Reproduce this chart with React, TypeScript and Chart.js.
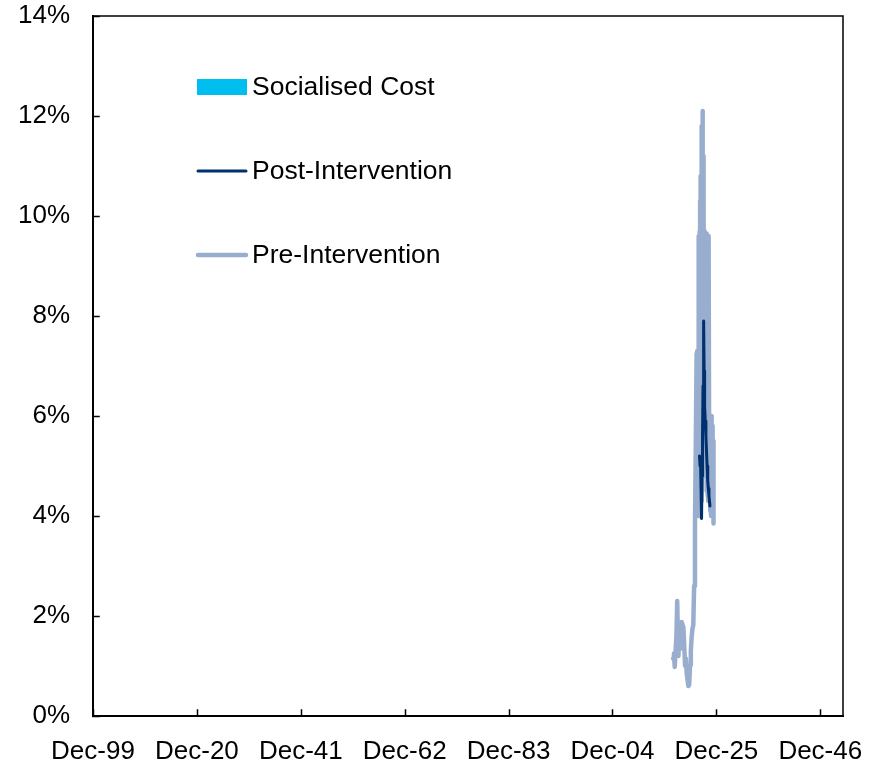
import React, { useEffect, useRef } from "react";
import { Chart, registerables } from "chart.js";

Chart.register(...registerables);

// ---- Data ----
const xTickLabels = ["Dec-99", "Dec-20", "Dec-41", "Dec-62", "Dec-83", "Dec-04", "Dec-25", "Dec-46"];
const xTickYears = [1900, 1921, 1942, 1963, 1984, 2005, 2026, 2047];
const xMin = 1900;
const xMax = 2051.59;
const yMin = 0;
const yMax = 14;
const yStep = 2;

const preDates = [
  2017.25, 2017.42, 2017.58, 2017.75, 2017.92, 2018.08, 2018.25, 2018.33, 2018.5, 2018.67,
  2018.83, 2019.0, 2019.17, 2019.33, 2019.5, 2019.67, 2019.83, 2020.0, 2020.17, 2020.33,
  2020.5, 2020.67, 2020.83, 2021.0, 2021.17, 2021.33, 2021.5, 2021.67, 2021.83, 2022.0,
  2022.06, 2022.12, 2022.18, 2022.24, 2022.3, 2022.36, 2022.42, 2022.48, 2022.54, 2022.6,
  2022.66, 2022.72, 2022.78, 2022.84, 2022.9, 2022.96, 2023.02, 2023.08, 2023.14, 2023.2,
  2023.26, 2023.32, 2023.38, 2023.44, 2023.5, 2023.56, 2023.62, 2023.68, 2023.74, 2023.8,
  2023.86, 2023.92, 2023.98, 2024.04, 2024.1, 2024.16, 2024.22, 2024.28, 2024.34, 2024.4,
  2024.46, 2024.52, 2024.6, 2024.68, 2024.76, 2024.84, 2024.92, 2025.0, 2025.08, 2025.16,
  2025.24, 2025.32, 2025.42,
];
const preValues = [
  1.15, 1.25, 0.98, 1.3, 1.6, 2.3, 1.45, 1.2, 1.75, 1.85,
  1.35, 1.88, 1.82, 1.78, 1.4, 1.0, 1.15, 0.85, 0.72, 0.6,
  0.62, 1.02, 1.3, 1.58, 1.75, 1.82, 2.6, 3.8, 5.4, 7.25,
  4.4, 7.3, 4.2, 7.2, 4.1, 7.3, 4.0, 9.6, 4.1, 9.7,
  4.0, 10.3, 4.2, 10.8, 4.3, 11.4, 4.6, 11.8, 5.0, 12.1,
  5.2, 11.2, 5.6, 10.4, 5.4, 9.7, 5.2, 9.6, 4.9, 9.6,
  4.8, 9.65, 4.6, 9.6, 4.5, 9.5, 4.4, 9.6, 4.3, 9.5,
  9.6, 6.0, 4.3, 6.0, 4.1, 5.9, 4.0, 6.0, 4.2, 5.8,
  4.4, 5.5, 3.85,
];

const postDates = [
  2022.58, 2022.7, 2022.8, 2022.92, 2023.0, 2023.1, 2023.2, 2023.3, 2023.42, 2023.52,
  2023.62, 2023.75, 2023.88, 2024.0, 2024.12, 2024.25, 2024.38, 2024.5, 2024.7,
];
const postValues = [
  5.2, 5.0, 5.1, 4.4, 3.95, 4.8, 5.6, 6.6, 7.9, 6.9,
  6.2, 5.9, 5.6, 5.3, 5.0, 4.7, 4.55, 4.4, 4.2,
];
// socialised cost = gap between post-intervention and pre-intervention
const socialisedCost = [
  2.1, 2.3, 2.6, 3.2, 3.6, 3.4, 3.0, 2.4, 0.2, 1.6,
  2.4, 2.6, 2.8, 3.0, 3.2, 3.4, 3.6, 1.4, 1.2,
];

const COLORS = {
  socialised: "#00BEF0",
  post: "#00306E",
  pre: "#99AECE",
};
const FONT = '"Liberation Sans", Arial, Helvetica, sans-serif';

export default function App() {
  const ref = useRef<HTMLCanvasElement>(null);

  useEffect(() => {
    if (!ref.current) return;

    const preData = preDates.map((d, i) => ({ x: d, y: preValues[i] }));
    const postData = postDates.map((d, i) => ({ x: d, y: postValues[i] }));
    const socialisedTop = postDates.map((d, i) => ({ x: d, y: postValues[i] + socialisedCost[i] }));

    const framePlugin = {
      id: "frameTicks",
      afterDatasetsDraw(chart: any) {
        const { ctx, chartArea } = chart;
        const { left, right, top, bottom } = chartArea;
        const xs = chart.scales.x;
        const ys = chart.scales.y;
        ctx.save();
        ctx.strokeStyle = "#000";
        ctx.lineCap = "square";
        ctx.lineWidth = 1.5;
        ctx.beginPath();
        ctx.moveTo(left, top);
        ctx.lineTo(right, top);
        ctx.lineTo(right, bottom);
        ctx.stroke();
        ctx.lineWidth = 1.5;
        ctx.beginPath();
        for (const t of ys.ticks) {
          const y = Math.round(ys.getPixelForValue(t.value)) + 0.5;
          ctx.moveTo(left, y);
          ctx.lineTo(left + 6, y);
        }
        for (const t of xs.ticks) {
          const x = Math.round(xs.getPixelForValue(t.value)) + 0.5;
          ctx.moveTo(x, bottom);
          ctx.lineTo(x, bottom - 6);
        }
        ctx.stroke();
        ctx.lineWidth = 2;
        ctx.beginPath();
        ctx.moveTo(left, top);
        ctx.lineTo(left, bottom);
        ctx.lineTo(right, bottom);
        ctx.stroke();
        ctx.restore();
      },
    };

    const legendPlugin = {
      id: "insideLegend",
      afterDraw(chart: any) {
        const { ctx } = chart;
        const ds = chart.data.datasets;
        const x0 = 197;
        const symW = 50;
        const textX = 252;
        const rows = [87, 171, 255];
        ctx.save();
        ctx.font = `26.5px ${FONT}`;
        ctx.textBaseline = "middle";
        ctx.textAlign = "left";
        ds.forEach((d: any, i: number) => {
          const y = rows[i];
          if (d.legendType === "box") {
            ctx.fillStyle = d.backgroundColor;
            ctx.fillRect(x0, y - 8, symW, 16);
          } else {
            ctx.strokeStyle = d.borderColor;
            ctx.lineWidth = d.borderWidth;
            ctx.lineCap = "round";
            ctx.beginPath();
            ctx.moveTo(x0 + 1, y);
            ctx.lineTo(x0 + symW - 1, y);
            ctx.stroke();
          }
          ctx.fillStyle = "#000";
          ctx.fillText(d.label, textX, y + 1);
        });
        ctx.restore();
      },
    };

    const chart = new Chart(ref.current, {
      type: "line",
      data: {
        datasets: [
          {
            label: "Socialised Cost",
            data: socialisedTop,
            borderWidth: 0,
            borderColor: "rgba(0,0,0,0)",
            backgroundColor: COLORS.socialised,
            fill: 1,
            pointRadius: 0,
            order: 3,
            legendType: "box",
          } as any,
          {
            label: "Post-Intervention",
            data: postData,
            borderColor: COLORS.post,
            backgroundColor: COLORS.post,
            borderWidth: 3,
            pointRadius: 0,
            fill: false,
            order: 1,
            borderJoinStyle: "round",
            borderCapStyle: "round",
          } as any,
          {
            label: "Pre-Intervention",
            data: preData,
            borderColor: COLORS.pre,
            backgroundColor: COLORS.pre,
            borderWidth: 4.5,
            pointRadius: 0,
            fill: false,
            order: 2,
            borderJoinStyle: "round",
            borderCapStyle: "round",
          } as any,
        ],
      },
      options: {
        animation: false,
        responsive: true,
        maintainAspectRatio: false,
        layout: { padding: { top: 16, right: 39, left: 0, bottom: 0 } },
        plugins: {
          legend: { display: false },
          tooltip: { enabled: false },
        },
        elements: { line: { tension: 0 } },
        scales: {
          x: {
            type: "linear",
            min: xMin,
            max: xMax,
            afterBuildTicks: (scale: any) => {
              scale.ticks = xTickYears.map((v) => ({ value: v }));
            },
            afterFit: (scale: any) => {
              scale.height = 47;
              scale.paddingLeft = 0;
              scale.paddingRight = 0;
            },
            grid: { display: false, drawTicks: false },
            border: { display: false },
            ticks: {
              autoSkip: false,
              maxRotation: 0,
              minRotation: 0,
              padding: 20,
              color: "#000",
              font: { family: FONT, size: 26 },
              callback: (_v: any, i: number) => xTickLabels[i],
            },
          },
          y: {
            type: "linear",
            min: yMin,
            max: yMax,
            afterFit: (scale: any) => {
              scale.width = 93;
              scale.paddingTop = 0;
              scale.paddingBottom = 0;
            },
            grid: { display: false, drawTicks: false },
            border: { display: false },
            ticks: {
              stepSize: yStep,
              padding: 23,
              color: "#000",
              font: { family: FONT, size: 26 },
              callback: (v: any) => `${v}%`,
            },
          },
        },
      },
      plugins: [framePlugin, legendPlugin],
    });

    return () => chart.destroy();
  }, []);

  return (
    <div style={{ position: "fixed", left: 0, top: 0, width: 882, height: 763, background: "#fff" }}>
      <canvas ref={ref} />
    </div>
  );
}
